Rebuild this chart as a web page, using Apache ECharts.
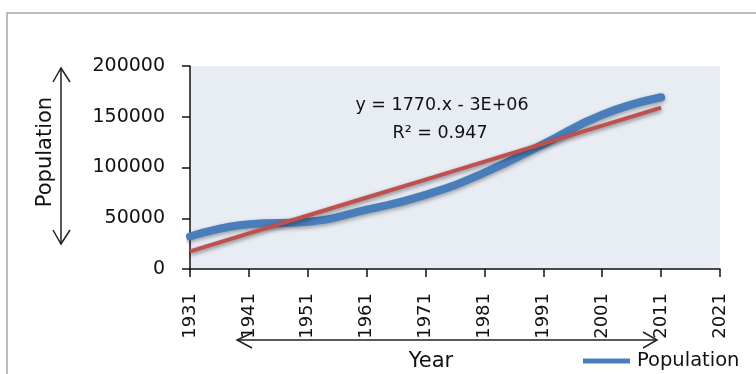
<!DOCTYPE html>
<html>
<head>
<meta charset="utf-8">
<script src="https://cdn.jsdelivr.net/npm/echarts@6/dist/echarts.min.js"></script>
<style>
  html, body { margin: 0; padding: 0; background: #ffffff; }
  #chart { width: 756px; height: 374px; }
</style>
</head>
<body>
<div id="chart"></div>
<script>
// Census years and recorded population
const years = [1931, 1941, 1951, 1961, 1971, 1981, 1991, 2001, 2011];
const population = [32000, 44000, 46500, 58500, 73000, 95000, 123000, 152000, 169200];

// Axis tick labels
const yearTicks = ['1931', '1941', '1951', '1961', '1971', '1981', '1991', '2001', '2011', '2021'];
const populationTicks = [0, 50000, 100000, 150000, 200000];

// Trendline caption
const equationText = 'y = 1770.x - 3E+06';
const rSquaredText = 'R\u00B2 = 0.947';

// Least-squares linear trend through the census points
const n = years.length;
const meanX = years.reduce((a, b) => a + b, 0) / n;
const meanY = population.reduce((a, b) => a + b, 0) / n;
let sxy = 0, sxx = 0;
for (let i = 0; i < n; i++) {
  sxy += (years[i] - meanX) * (population[i] - meanY);
  sxx += (years[i] - meanX) * (years[i] - meanX);
}
const slope = sxy / sxx;
const intercept = meanY - slope * meanX;
const trend = years.map(x => slope * x + intercept);

const FONT = 'DejaVu Sans';
const INK = '#111111';

const chart = echarts.init(document.getElementById('chart'), null, { renderer: 'canvas' });

const arrowStyle = { stroke: '#222222', lineWidth: 1.5, fill: null };

chart.setOption({
  animation: false,
  backgroundColor: '#ffffff',
  grid: {
    left: 190, right: 36, top: 66, bottom: 105,
    show: true, backgroundColor: '#e8edf4', borderWidth: 0
  },
  legend: {
    data: [{ name: 'Population', icon: 'rect' }],
    left: 583, top: 351, padding: 0,
    itemWidth: 47, itemHeight: 5,
    textStyle: { fontFamily: FONT, fontSize: 19.5, color: INK, padding: [0, 0, 0, 2] }
  },
  xAxis: {
    type: 'category',
    data: yearTicks,
    boundaryGap: false,
    axisLine: { lineStyle: { color: INK, width: 1.5 } },
    axisTick: { show: true, length: 8, interval: 0, lineStyle: { color: INK, width: 1.5 } },
    axisLabel: {
      interval: 0, rotate: 90, margin: 24,
      fontFamily: FONT, fontSize: 18, color: INK
    },
    splitLine: { show: false }
  },
  yAxis: {
    type: 'value',
    min: populationTicks[0],
    max: populationTicks[populationTicks.length - 1],
    interval: populationTicks[1] - populationTicks[0],
    axisLine: { show: true, lineStyle: { color: INK, width: 1.5 } },
    axisTick: { show: true, length: 8, lineStyle: { color: INK, width: 1.5 } },
    axisLabel: {
      margin: 25, fontFamily: FONT, fontSize: 19, color: INK,
      formatter: v => String(v)
    },
    splitLine: { show: false }
  },
  series: [
    {
      name: 'Population',
      type: 'line',
      data: population,
      smooth: 0.5,
      symbol: 'none',
      lineStyle: {
        color: '#4a7ebb', width: 8, cap: 'round', join: 'round',
        shadowColor: 'rgba(0,0,0,0.35)', shadowBlur: 4, shadowOffsetY: 2
      },
      itemStyle: { color: '#4a7ebb' },
      z: 2
    },
    {
      name: 'Linear (Population)',
      type: 'line',
      data: trend,
      smooth: false,
      symbol: 'none',
      lineStyle: {
        color: '#c0504d', width: 4,
        shadowColor: 'rgba(0,0,0,0.45)', shadowBlur: 4, shadowOffsetY: 2
      },
      itemStyle: { color: '#c0504d' },
      z: 3
    }
  ],
  graphic: [
    // chart frame
    { type: 'polyline', shape: { points: [[7, 374], [7, 13], [756, 13]] },
      style: { stroke: '#a6a6a6', lineWidth: 1.5, fill: null }, silent: true },
    // vertical double arrow beside the value axis title
    { type: 'polyline', shape: { points: [[61, 68], [61, 244]] }, style: arrowStyle, silent: true },
    { type: 'polyline', shape: { points: [[53, 82], [61, 68], [70, 82]] }, style: arrowStyle, silent: true },
    { type: 'polyline', shape: { points: [[53, 230], [61, 244], [70, 230]] }, style: arrowStyle, silent: true },
    // horizontal double arrow above the year title
    { type: 'polyline', shape: { points: [[237, 340], [657, 340]] }, style: arrowStyle, silent: true },
    { type: 'polyline', shape: { points: [[252, 333], [237, 340], [252, 348]] }, style: arrowStyle, silent: true },
    { type: 'polyline', shape: { points: [[643, 332], [657, 340], [643, 348]] }, style: arrowStyle, silent: true },
    // axis titles
    { type: 'text', x: 46, y: 152, rotation: Math.PI / 2,
      style: { text: 'Population', fontFamily: FONT, fontSize: 21, fill: INK,
               align: 'center', verticalAlign: 'middle' }, silent: true },
    { type: 'text', x: 431, y: 362,
      style: { text: 'Year', fontFamily: FONT, fontSize: 21, fill: INK,
               align: 'center', verticalAlign: 'middle' }, silent: true },
    // trendline equation
    { type: 'text', x: 442, y: 105,
      style: { text: equationText, fontFamily: FONT, fontSize: 17.5, fill: INK,
               align: 'center', verticalAlign: 'middle' }, silent: true },
    { type: 'text', x: 440, y: 133,
      style: { text: rSquaredText, fontFamily: FONT, fontSize: 17.5, fill: INK,
               align: 'center', verticalAlign: 'middle' }, silent: true }
  ]
});
</script>
</body>
</html>
